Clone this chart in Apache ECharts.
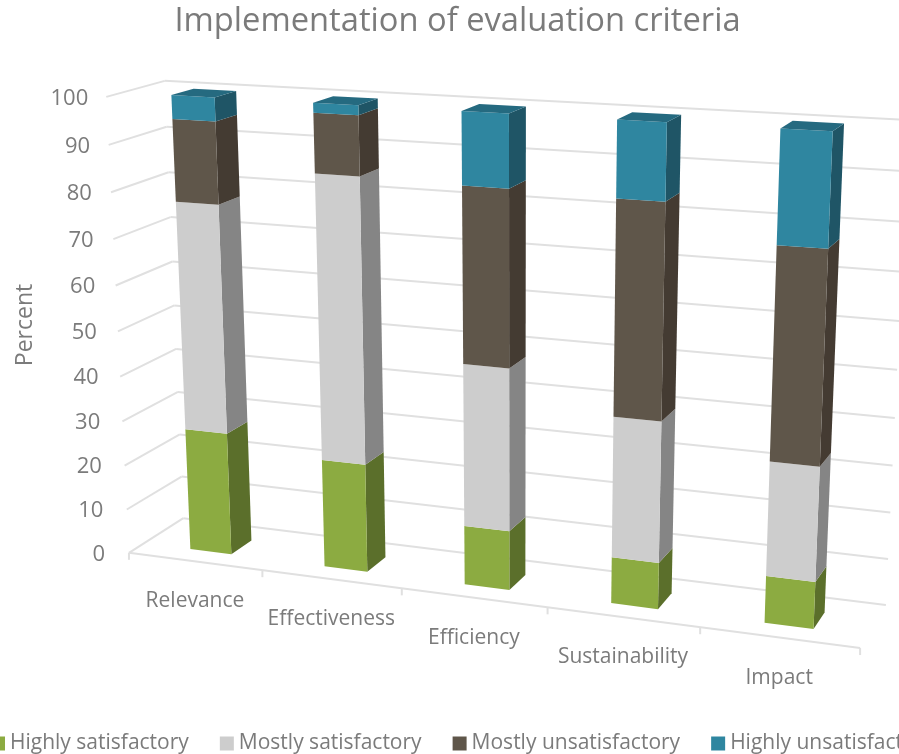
<!DOCTYPE html>
<html>
<head>
<meta charset="utf-8">
<title>Implementation of evaluation criteria</title>
<style>html,body{margin:0;padding:0;background:#fff;overflow:hidden}#chart{width:899px;height:754px}</style>
<script src="https://cdn.jsdelivr.net/npm/echarts@6/dist/echarts.min.js"></script>
</head>
<body>
<div id="chart"></div>
<script>
// Chart content
const titleText = 'Implementation of evaluation criteria';
const axisTitle = 'Percent';
const categories = ['Relevance', 'Effectiveness', 'Efficiency', 'Sustainability', 'Impact'];
const valueTicks = [0, 10, 20, 30, 40, 50, 60, 70, 80, 90, 100];
const highlySatisfactory = [27.5, 24, 13, 10, 10];
const mostlySatisfactory = [50, 61.5, 35, 30, 24];
const mostlyUnsatisfactory = [17.5, 12.5, 37, 44.5, 43.5];
const highlyUnsatisfactory = [5, 2, 15, 15.5, 22.5];

// Stack order with front, side and cap shades of each colour
const stackNames = ['Highly satisfactory', 'Mostly satisfactory', 'Mostly unsatisfactory', 'Highly unsatisfactory'];
const stackValues = [highlySatisfactory, mostlySatisfactory, mostlyUnsatisfactory, highlyUnsatisfactory];
const frontShades = ['#8cab41', '#cdcdcd', '#5f564a', '#2f86a0'];
const sideShades = ['#5b6f2b', '#858585', '#443b32', '#1f5566'];
const capShade = '#256a80';
const gridShade = '#e0e0e0';
const textShade = '#7b7b7b';
const textFont = '"Open Sans"';

// Pinhole view of the chart box: [u, v, w] in unit box space to page pixels
const boxView = [
  [0, 0, 0, 129.3, 553], [1, 0, 0, 860, 648], [0, 1, 0, 106, 96.7],
  [0, 0, 1, 183, 518], [0, 1, 1, 165, 81], [1, 0, 1, 886, 605], [1, 1, 1, 909, 120]
];
const barShare = 0.31;
const barShift = 0.002;
const barNear = 0.27;
const barFar = 0.66;

// Least-squares solve of the 3x4 projection from the view correspondences
function solveProjection(rows) {
  const A = [], b = [];
  rows.forEach(([u, v, w, px, py]) => {
    const x = px / 1000, y = py / 1000;
    A.push([u, v, w, 1, 0, 0, 0, 0, -x * u, -x * v, -x * w]); b.push(x);
    A.push([0, 0, 0, 0, u, v, w, 1, -y * u, -y * v, -y * w]); b.push(y);
  });
  const n = 11;
  const M = [];
  for (let i = 0; i < n; i++) {
    M.push(new Array(n + 1).fill(0));
    for (let j = 0; j < n; j++) A.forEach(r => { M[i][j] += r[i] * r[j]; });
    A.forEach((r, k) => { M[i][n] += r[i] * b[k]; });
  }
  for (let c = 0; c < n; c++) {
    let p = c;
    for (let r = c + 1; r < n; r++) if (Math.abs(M[r][c]) > Math.abs(M[p][c])) p = r;
    [M[c], M[p]] = [M[p], M[c]];
    for (let r = 0; r < n; r++) {
      if (r === c) continue;
      const f = M[r][c] / M[c][c];
      for (let k = c; k <= n; k++) M[r][k] -= f * M[c][k];
    }
  }
  return M.map((row, i) => row[n] / row[i]);
}
const H = solveProjection(boxView);
function project(u, v, w) {
  const d = H[8] * u + H[9] * v + H[10] * w + 1;
  return [
    1000 * (H[0] * u + H[1] * v + H[2] * w + H[3]) / d,
    1000 * (H[4] * u + H[5] * v + H[6] * w + H[7]) / d
  ];
}

// Hidden axes give unit box coordinates from chart values
function boxCoords(params, api, cat, val) {
  const c = api.coord([cat, val]);
  const g = params.coordSys;
  return [(c[0] - g.x) / g.width, (g.y + g.height - c[1]) / g.height];
}

function textEl(x, y, text, size, align, rotation) {
  return {
    type: 'text', x: x, y: y, rotation: rotation || 0,
    style: { x: 0, y: 0, text: text, fill: textShade, fontFamily: textFont, fontSize: size, textAlign: align, textVerticalAlign: 'middle' }
  };
}
function lineEl(a, b) {
  return { type: 'line', shape: { x1: a[0], y1: a[1], x2: b[0], y2: b[1] }, style: { stroke: gridShade, lineWidth: 2 } };
}

// Walls, floor edge, ticks and every axis text
function renderFrame(params, api) {
  const kids = [];
  valueTicks.forEach(t => {
    const v = boxCoords(params, api, 0, t)[1];
    const p0 = project(0, v, 0), p1 = project(0, v, 1), p2 = project(1, v, 1);
    kids.push(lineEl(p0, p1), lineEl(p1, p2));
    kids.push(textEl(p0[0] - 24 + 6 * v, p0[1] + 1.5, String(t), 22, 'right'));
  });
  const band = api.size([1, 0])[0] / params.coordSys.width;
  kids.push(lineEl(project(0, 0, 0), project(1, 0, 0)));
  for (let i = 0; i <= categories.length; i++) {
    const p = project(i * band, 0, 0);
    kids.push(lineEl(p, [p[0], p[1] + 7]));
  }
  categories.forEach((name, i) => {
    const p = project(boxCoords(params, api, i, 0)[0], 0, 0);
    kids.push(textEl(p[0], p[1] + 40, name, 21, 'center'));
  });
  kids.push(textEl(25, 325, axisTitle, 23, 'center', Math.PI / 2));
  return { type: 'group', children: kids };
}

// One stacked block: front and side faces, plus a cap on the last stack
function renderBlock(k) {
  return function (params, api) {
    const cat = api.value(0);
    const [uc, v0] = boxCoords(params, api, cat, api.value(1));
    const v1 = boxCoords(params, api, cat, api.value(2))[1];
    const half = barShare * api.size([1, 0])[0] / params.coordSys.width / 2;
    const ul = uc - half + barShift, ur = uc + half + barShift;
    const poly = (pts, fill) => ({ type: 'polygon', shape: { points: pts }, style: { fill: fill } });
    const kids = [
      poly([project(ur, v0, barNear), project(ur, v0, barFar), project(ur, v1, barFar), project(ur, v1, barNear)], sideShades[k]),
      poly([project(ul, v0, barNear), project(ur, v0, barNear), project(ur, v1, barNear), project(ul, v1, barNear)], frontShades[k])
    ];
    if (k === stackValues.length - 1) {
      kids.push(poly([project(ul, v1, barNear), project(ur, v1, barNear), project(ur, v1, barFar), project(ul, v1, barFar)], capShade));
    }
    return { type: 'group', children: kids };
  };
}

const blockSeries = stackNames.map((name, k) => ({
  type: 'custom',
  name: name,
  clip: false,
  itemStyle: { color: frontShades[k] },
  renderItem: renderBlock(k),
  encode: { x: 0, y: [1, 2] },
  data: categories.map((c, i) => {
    let base = 0;
    for (let s = 0; s < k; s++) base += stackValues[s][i];
    return [i, base, base + stackValues[k][i]];
  })
}));

const chart = echarts.init(document.getElementById('chart'), null, { renderer: 'canvas' });
chart.setOption({
  animation: false,
  backgroundColor: '#ffffff',
  title: {
    text: titleText, left: 452.5, textAlign: 'center', top: 0,
    textStyle: { color: textShade, fontFamily: textFont, fontSize: 32.7, fontWeight: 'normal' }
  },
  legend: {
    data: stackNames, left: -9, top: 733, width: 1300, padding: 0, icon: 'rect',
    itemWidth: 14, itemHeight: 14, itemGap: 31,
    textStyle: { color: textShade, fontFamily: textFont, fontSize: 21 }
  },
  grid: { left: 0, right: 0, top: 0, bottom: 0 },
  xAxis: { type: 'category', data: categories, show: false },
  yAxis: { type: 'value', min: 0, max: 100, interval: 10, show: false },
  series: [{
    type: 'custom', name: 'frame', clip: false, silent: true,
    renderItem: renderFrame, encode: { x: 0, y: 1 }, data: [[0, 0]]
  }].concat(blockSeries)
});
</script>
</body>
</html>
